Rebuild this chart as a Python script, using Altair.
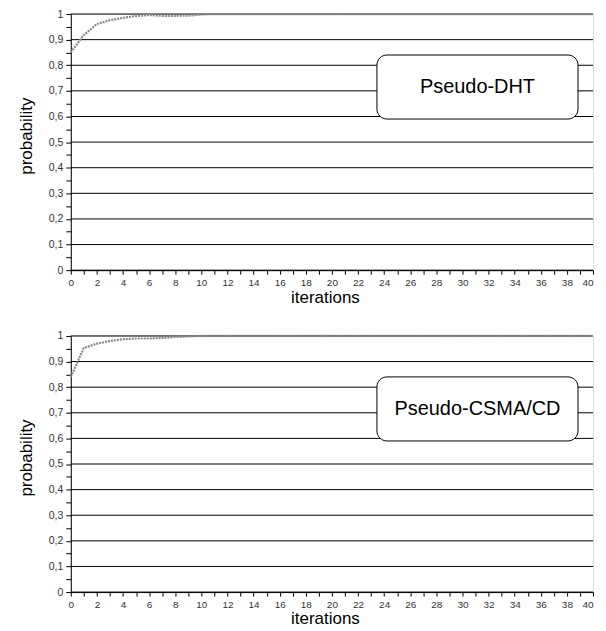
import altair as alt
import pandas as pd

iterations = list(range(0, 41))
dht = [0.85, 0.918, 0.961, 0.976, 0.985, 0.992, 0.996, 0.993, 0.993, 0.994, 0.998] + [1.0] * 30
csma = [0.84, 0.953, 0.970, 0.980, 0.987, 0.990, 0.990, 0.992, 0.996, 0.998, 1.0] + [1.0] * 30
grid_values = [i / 10 for i in range(0, 11)]
y_ticks = [i / 20 for i in range(0, 21)]
x_ticks = list(range(0, 41))
labels = ["Pseudo-DHT", "Pseudo-CSMA/CD"]
box_x = [23.45, 38.85]
box_y = [0.84, 0.59]
text_pos = [31.15, 0.716]

FONT = "Liberation Sans"

xscale = alt.Scale(domain=[0, 40], nice=False, zero=False)
yscale = alt.Scale(domain=[0, 1], nice=False)

yaxis = alt.Axis(values=y_ticks, grid=False, title="probability",
                 labelExpr="abs(round(datum.value*20)) % 2 == 1 ? '' : replace(format(datum.value, '.1~f'), '.', ',')",
                 labelOverlap=False,
                 labelFont=FONT, labelFontSize=10.5, labelColor="#333333",
                 titleFont=FONT, titleFontSize=17, titleFontWeight="normal",
                 titleColor="#000000", titlePadding=13, titleY=122,
                 domainColor="#000000", tickColor="#000000", tickSize=5,
                 labelPadding=3)
xaxis = alt.Axis(values=x_ticks, grid=False, title="iterations",
                 labelExpr="datum.value % 2 == 0 ? datum.label : ''",
                 labelOverlap=False,
                 labelAlign={"condition": {"test": "datum.value === 40", "value": "right"}, "value": "center"},
                 labelFont=FONT, labelFontSize=10, labelColor="#333333",
                 titleFont=FONT, titleFontSize=17, titleFontWeight="normal",
                 titleColor="#000000", titlePadding=2, titleX=255,
                 domainColor="#000000", tickColor="#000000", tickSize=4,
                 labelPadding=3, labelFlush=False)

def panel(values, label):
    df = pd.DataFrame({"iterations": iterations, "probability": values})
    gdf = pd.DataFrame({"g": grid_values})
    grid = alt.Chart(gdf).mark_rule(color="#000000", strokeWidth=1).encode(
        y=alt.Y("g:Q", scale=yscale, axis=yaxis),
        x=alt.value(0), x2=alt.value("width"),
    )
    line = alt.Chart(df).mark_line(color="#888888", strokeWidth=2.2, strokeDash=[2, 1]).encode(
        x=alt.X("iterations:Q", scale=xscale, axis=xaxis),
        y=alt.Y("probability:Q", scale=yscale, axis=yaxis),
    )
    bdf = pd.DataFrame({"x1": [box_x[0]], "x2": [box_x[1]], "y1": [box_y[0]], "y2": [box_y[1]],
                        "tx": [text_pos[0]], "ty": [text_pos[1]], "label": [label]})
    box = alt.Chart(bdf).mark_rect(fill="white", stroke="#000000", strokeWidth=1, cornerRadius=10).encode(
        x=alt.X("x1:Q", scale=xscale, axis=xaxis), x2="x2:Q",
        y=alt.Y("y1:Q", scale=yscale, axis=yaxis), y2="y2:Q",
    )
    txt = alt.Chart(bdf).mark_text(font=FONT, fontSize=20, color="#000000").encode(
        x=alt.X("tx:Q", scale=xscale, axis=xaxis), y=alt.Y("ty:Q", scale=yscale, axis=yaxis), text="label:N",
    )
    return alt.layer(grid, line, box, txt).properties(width=524, height=257)

chart = alt.vconcat(panel(dht, labels[0]), panel(csma, labels[1]), spacing=24).properties(
    padding={"top": -1, "left": 8, "right": 0, "bottom": 0}
).configure_view(stroke=None).configure(background="white")

chart.save("out.html", embed_options={"renderer": "svg", "actions": False})
